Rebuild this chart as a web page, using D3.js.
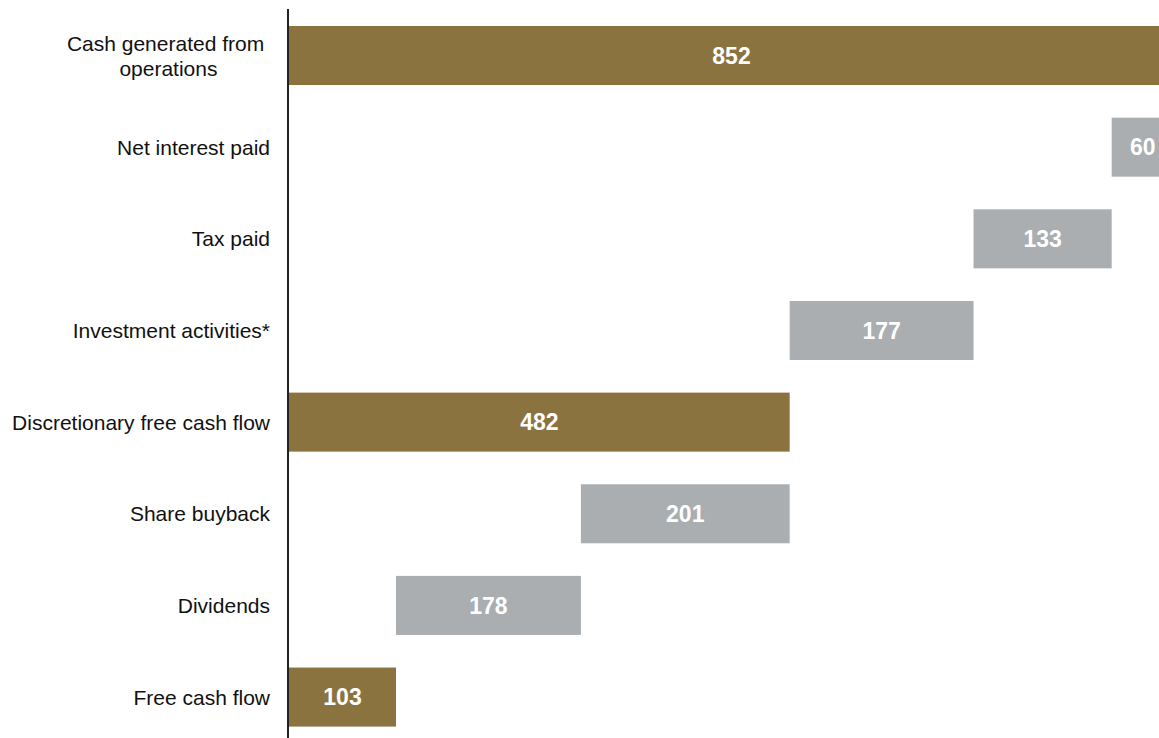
<!DOCTYPE html>
<html>
<head>
<meta charset="utf-8">
<script src="https://cdn.jsdelivr.net/npm/d3@7"></script>
<style>
  html, body { margin: 0; padding: 0; background: #fff; overflow: hidden; }
  svg { display: block; }
  .cat text { white-space: pre; }
</style>
</head>
<body>
<svg id="chart" width="1159" height="738"></svg>
<script>
// Cash flow bridge, top to bottom
const categories = [
  ["Cash generated from ", "operations"],
  ["Net interest paid"],
  ["Tax paid"],
  ["Investment activities*"],
  ["Discretionary free cash flow"],
  ["Share buyback"],
  ["Dividends"],
  ["Free cash flow"]
];
const values = [852, 60, 133, 177, 482, 201, 178, 103];
const kinds  = ["total", "step", "step", "step", "total", "step", "step", "total"];

// Running position of each floating bar: totals start at zero,
// deductions hang from the previous bar's left edge.
const rows = [];
let level = 0;
values.forEach((v, i) => {
  let start, end;
  if (kinds[i] === "total") { start = 0; end = v; level = v; }
  else { end = level; start = level - v; level = start; }
  rows.push({ key: i, label: categories[i], value: v, kind: kinds[i], start, end });
});

const svg = d3.select("#chart");
const width = 1159, height = 738;
const axisX = 289;

const x = d3.scaleLinear().domain([0, 852]).range([axisX, 1174]);
const y = d3.scaleBand()
  .domain(rows.map(d => d.key))
  .range([9.7, 742.9])
  .paddingInner(0.356)
  .paddingOuter(0.178);

const color = { total: "#8b7340", step: "#aaaeb1" };

svg.append("defs").append("clipPath").attr("id", "plot")
  .append("rect").attr("x", axisX).attr("y", 0).attr("width", width - axisX).attr("height", height);

const g = svg.append("g").attr("clip-path", "url(#plot)");

g.selectAll("rect.bar")
  .data(rows)
  .join("rect")
  .attr("class", "bar")
  .attr("x", d => x(d.start))
  .attr("y", d => y(d.key))
  .attr("width", d => x(d.end) - x(d.start))
  .attr("height", y.bandwidth())
  .attr("fill", d => color[d.kind]);

g.selectAll("text.val")
  .data(rows)
  .join("text")
  .attr("class", "val")
  .attr("x", d => (x(d.start) + x(d.end)) / 2)
  .attr("y", d => y(d.key) + y.bandwidth() / 2)
  .attr("dy", "0.36em")
  .attr("text-anchor", "middle")
  .attr("font-family", "'Liberation Sans', Arial, sans-serif")
  .attr("font-weight", "bold")
  .attr("font-size", 23)
  .attr("fill", "#fff")
  .text(d => d.value);

// Category axis
svg.append("line")
  .attr("x1", axisX - 1).attr("x2", axisX - 1)
  .attr("y1", 9).attr("y2", height)
  .attr("stroke", "#222").attr("stroke-width", 2);

const labels = svg.append("g")
  .attr("class", "cat")
  .attr("font-family", "'Liberation Sans', Arial, sans-serif")
  .attr("font-size", 21)
  .attr("fill", "#111");

const labelRight = 270;
const lineH = 25;
rows.forEach(d => {
  const cy = y(d.key) + y.bandwidth() / 2;
  const lines = d.label;
  const t = labels.append("text").attr("text-anchor", "middle");
  const spans = lines.map((s, j) => t.append("tspan")
    .attr("y", cy + (j - (lines.length - 1) / 2) * lineH)
    .attr("dy", "0.36em")
    .text(s));
  // centre multi-line labels on each other, right-aligned as a block
  const w = d3.max(spans, s => s.node().getComputedTextLength());
  spans.forEach(s => s.attr("x", labelRight - w / 2));
});
</script>
</body>
</html>
